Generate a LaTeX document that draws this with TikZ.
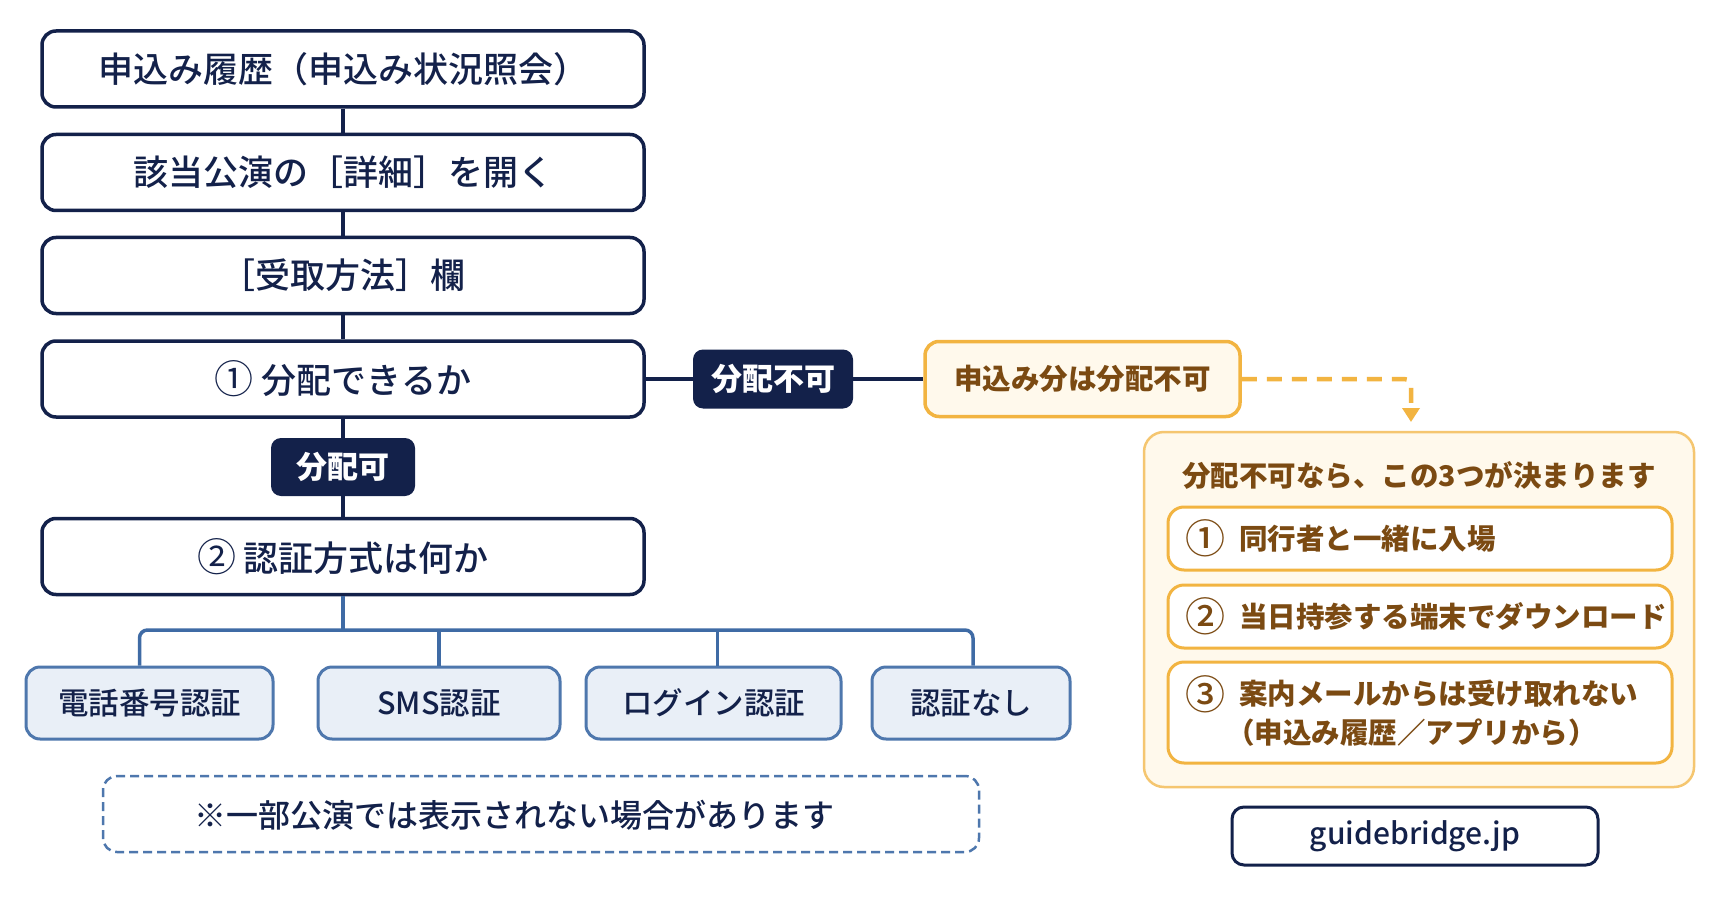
\documentclass[tikz,border=0pt]{standalone}
\usepackage{fontspec}
\newfontfamily\jp{Noto Sans CJK JP Medium}
\newfontfamily\jpr{Noto Sans CJK JP}
\usetikzlibrary{arrows.meta}
\definecolor{navy}{HTML}{13214A}
\definecolor{steel}{HTML}{4E77AD}
\definecolor{busc}{HTML}{3F6BA5}
\definecolor{lightblue}{HTML}{E9EFF7}
\definecolor{orng}{HTML}{F2B441}
\definecolor{orngl}{HTML}{F5C670}
\definecolor{cream}{HTML}{FFF9EC}
\definecolor{brown}{HTML}{7B4A12}
\newcommand\maincirc[1]{{\jpr\mdseries\fontsize{39}{39}\selectfont #1}}
\newcommand\itemcirc[1]{{\jp\mdseries\fontsize{40}{40}\selectfont #1}}
\tikzset{
  mainbox/.style={draw=navy, line width=3.5pt, fill=white, rounded corners=14pt,
    minimum width=602pt, minimum height=76pt, text=navy,
    font=\jp\fontsize{35}{42}\selectfont},
  tagbox/.style={fill=navy, rounded corners=10pt, text=white, inner sep=0pt,
    font=\jpr\bfseries\fontsize{31}{36}\selectfont},
  childbox/.style={draw=steel, line width=3pt, fill=lightblue, rounded corners=14pt,
    minimum height=72pt, text=navy, inner sep=0pt,
    font=\jp\fontsize{30.5}{36}\selectfont},
  navyline/.style={draw=navy, line width=4pt},
  busline/.style={draw=busc, line width=3.5pt},
  obox/.style={draw=orng, line width=3.5pt, fill=cream, rounded corners=14pt, text=brown,
    inner sep=0pt, font=\jpr\bfseries\fontsize{28.5}{34}\selectfont},
  itembox/.style={draw=orng, line width=3pt, fill=white, rounded corners=16pt,
    minimum width=504pt, inner sep=0pt},
  otext/.style={text=brown, inner sep=0pt, font=\jpr\bfseries\fontsize{28.5}{34}\selectfont},
}
\begin{document}
\begin{tikzpicture}[x=1pt,y=-1pt]
\path[use as bounding box, fill=white] (0,0) rectangle (1731,909);

% main column
\node[mainbox] (b1) at (343,69) {申込み履歴（申込み状況照会）};
\node[mainbox] (b2) at (343,172.5) {該当公演の［詳細］を開く};
\node[mainbox] (b3) at (343,275.5) {［受取方法］欄};
\node[mainbox] (b4) at (343,379) {\maincirc{①} 分配できるか};
\node[tagbox, minimum width=144pt, minimum height=58pt] (t1) at (343,467) {分配可};
\node[mainbox] (b5) at (343,556.5) {\maincirc{②} 認証方式は何か};

\draw[navyline] (b1.south) -- (b2.north);
\draw[navyline] (b2.south) -- (b3.north);
\draw[navyline] (b3.south) -- (b4.north);
\draw[navyline] (b4.south) -- (t1.north);
\draw[navyline] (t1.south) -- (b5.north);

% children
\node[childbox, minimum width=247pt] (c1) at (149.5,703) {電話番号認証};
\node[childbox, minimum width=242pt] (c2) at (439,703) {SMS認証};
\node[childbox, minimum width=255pt] (c3) at (713.5,703) {ログイン認証};
\node[childbox, minimum width=198pt] (c4) at (971,703) {認証なし};
\coordinate (bj) at (343,630);
\draw[busline] (b5.south) -- (bj);
\draw[busline, rounded corners=8pt] ([xshift=-10pt]c1.north) |- (bj) -| ([xshift=2pt]c4.north);
\draw[busline] (c2.north) -- (c2.north |- bj);
\draw[busline] ([xshift=4pt]c3.north) -- ([xshift=4pt]c3.north |- bj);

% note
\node[draw=steel, line width=2.5pt, dash pattern=on 9pt off 5pt, rounded corners=14pt,
  minimum width=876pt, minimum height=76pt] (note) at (541,814) {};
\node[text=navy, inner sep=0pt, font=\jp\fontsize{32}{36}\selectfont] (notetext) at (514,815)
  {※一部公演では表示されない場合があります};

% right branch
\node[tagbox, minimum width=160pt, minimum height=59pt] (t2) at (773,379) {分配不可};
\node[obox, minimum width=315pt, minimum height=75pt] (o1) at (1082.5,379) {申込み分は分配不可};
\draw[navyline] (b4.east) -- (t2.west);
\draw[navyline] (t2.east) -- (o1.west);

\node[draw=orngl, line width=2.5pt, fill=cream, rounded corners=20pt,
  minimum width=550pt, minimum height=355pt] (panel) at (1419,609.5) {};
\coordinate (tip) at (1411,422);
\draw[orng, line width=4.5pt, dash pattern=on 15pt off 10pt, rounded corners=7pt,
  -{Triangle[width=17pt,length=14pt]}] (o1.east) -| (tip);

\node[otext] (ptitle) at (1419,475) {分配不可なら、この3つが決まります};
\node[itembox, minimum height=63pt] (i1) at (1420,538.5) {};
\node[itembox, minimum height=63pt] (i2) at (1420,616.5) {};
\node[itembox, minimum height=101pt] (i3) at (1420,712.5) {};
\node[otext] (n1) at (1205,538.5) {\itemcirc{①}};
\node[otext, anchor=west] (x1) at (1239,538.5) {同行者と一緒に入場};
\node[otext] (n2) at (1205,616.5) {\itemcirc{②}};
\node[otext, anchor=west] (x2) at (1239,616.5) {当日持参する端末でダウンロード};
\node[otext] (n3) at (1205,694) {\itemcirc{③}};
\node[otext, anchor=west] (x3) at (1239,694) {案内メールからは受け取れない};
\node[otext, anchor=west] (x3b) at (1226,733) {（申込み履歴／アプリから）};

\node[draw=navy, line width=3pt, fill=white, rounded corners=12pt,
  minimum width=366pt, minimum height=58pt, text=navy,
  font=\jp\fontsize{30}{36}\selectfont] (gb) at (1415,836) {guidebridge.jp};
\end{tikzpicture}
\end{document}
